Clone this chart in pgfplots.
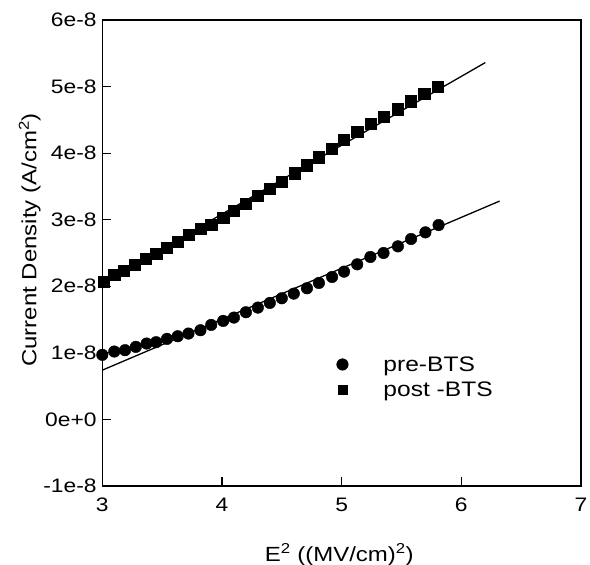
\documentclass[border=0pt]{standalone}
\usepackage{pgfplots}
\pgfplotsset{compat=1.18}
\usepackage{fontspec}
\setmainfont{Liberation Sans}[FakeStretch=1.17]
\begin{document}
\begin{tikzpicture}
\useasboundingbox (0,0) rectangle (590bp,565bp);
\begin{axis}[
  at={(102.3bp,79bp)}, anchor=south west,
  scale only axis,
  width=478.7bp, height=466bp,
  xmin=3, xmax=7, ymin=-1e-8, ymax=6e-8,
  clip=false,
  scaled y ticks=false,
  xtick={3,4,5,6,7},
  ytick={-1e-8,0,1e-8,2e-8,3e-8,4e-8,5e-8,6e-8},
  yticklabels={-1e-8,0e+0,1e-8,2e-8,3e-8,4e-8,5e-8,6e-8},
  xtick pos=bottom, ytick pos=left,
  tick align=inside,
  major tick length=9bp,
  axis line style={line width=1.3bp},
  every tick/.style={black, line width=1.2bp},
  /pgf/number format/assume math mode=true,
  tick label style={font=\fontsize{19.5bp}{24bp}\selectfont},
  yticklabel style={inner sep=0pt, xshift=-5.5bp},
  xticklabel style={inner sep=0pt, yshift=-12bp},
  xlabel={E\textsuperscript{2} ((MV/cm)\textsuperscript{2})},
  ylabel={Current Density (A/cm\textsuperscript{2})},
  xlabel style={font=\fontsize{20.5bp}{26bp}\selectfont, at={(axis description cs:0.495,-0.161)}, anchor=base, inner sep=0pt},
  ylabel style={font=\fontsize{20.5bp}{26bp}\selectfont, at={(axis description cs:-0.1379,0.528)}, anchor=base, inner sep=0pt},
  legend style={draw=none, fill=none, at={(axis cs:4.905,0.98e-8)}, anchor=north west,
    font=\fontsize{21bp}{24bp}\selectfont, row sep=5bp, inner sep=0pt,
    nodes={inner sep=2bp}},
  legend cell align=left,
  legend image code/.code={\draw[#1] plot coordinates {(12bp,0bp)}; \path[draw=none] (0bp,0bp) -- (51bp,0bp);},
]
\addplot[black, line width=1.3bp, no marks, forget plot] coordinates {(3,0.74e-8) (6.32,3.28e-8)};
\addplot[black, line width=1.3bp, no marks, forget plot] coordinates {(3,2.05e-8) (6.2,5.36e-8)};
\addplot[only marks, mark=*, mark size=5.8bp, black, forget plot] coordinates {
(3.00,0.97e-8) (3.10,1.02e-8) (3.19,1.04e-8) (3.28,1.09e-8) (3.37,1.14e-8)
(3.45,1.16e-8) (3.54,1.21e-8) (3.63,1.25e-8) (3.72,1.29e-8) (3.82,1.34e-8)
(3.91,1.42e-8) (4.01,1.48e-8) (4.10,1.53e-8) (4.20,1.61e-8) (4.30,1.68e-8)
(4.40,1.75e-8) (4.50,1.82e-8) (4.60,1.89e-8) (4.71,1.97e-8) (4.81,2.05e-8)
(4.92,2.14e-8) (5.02,2.22e-8) (5.13,2.33e-8) (5.24,2.44e-8) (5.35,2.50e-8)
(5.47,2.60e-8) (5.58,2.71e-8) (5.70,2.81e-8) (5.81,2.92e-8)};
\addplot[only marks, mark=square*, mark size=5.6bp, black, forget plot] coordinates {
(3.01,2.07e-8) (3.10,2.17e-8) (3.18,2.24e-8) (3.27,2.33e-8) (3.36,2.42e-8)
(3.45,2.49e-8) (3.54,2.58e-8) (3.63,2.67e-8) (3.72,2.77e-8) (3.82,2.87e-8)
(3.91,2.93e-8) (4.01,3.03e-8) (4.10,3.13e-8) (4.20,3.24e-8) (4.30,3.36e-8)
(4.40,3.47e-8) (4.50,3.57e-8) (4.61,3.70e-8) (4.71,3.82e-8) (4.81,3.94e-8)
(4.92,4.07e-8) (5.02,4.20e-8) (5.13,4.32e-8) (5.24,4.44e-8) (5.35,4.55e-8)
(5.47,4.66e-8) (5.58,4.78e-8) (5.69,4.89e-8) (5.80,5.00e-8)};
\addlegendimage{only marks, mark=*, mark size=5.8bp, black}
\addlegendentry{pre-BTS}
\addlegendimage{only marks, mark=square*, mark size=4.6bp, black}
\addlegendentry{post -BTS}
\end{axis}
\end{tikzpicture}
\end{document}
